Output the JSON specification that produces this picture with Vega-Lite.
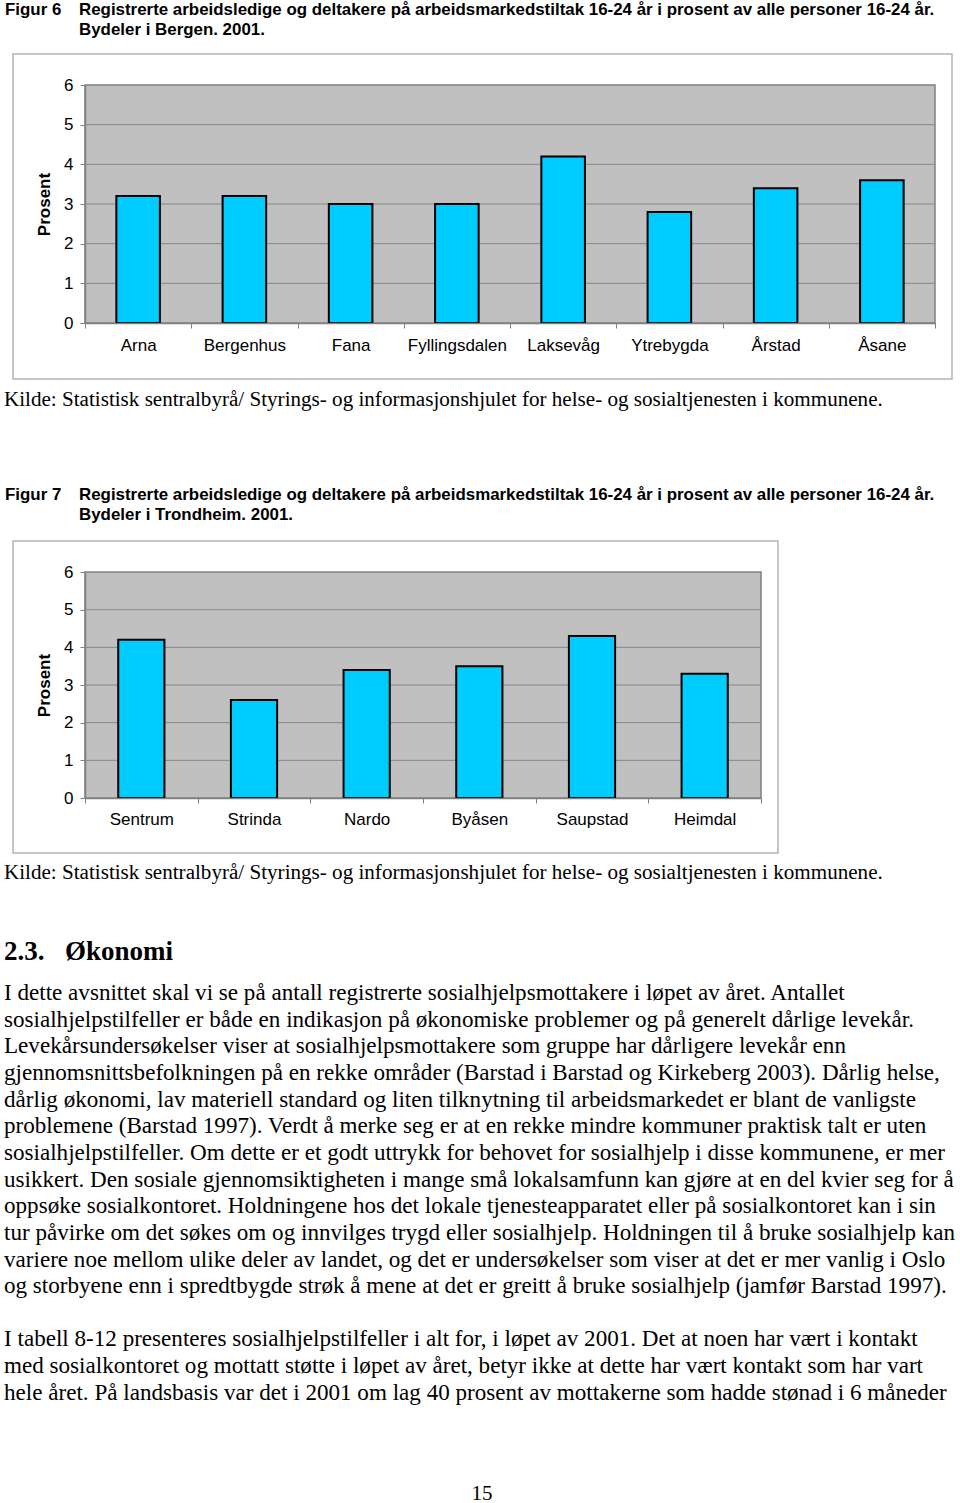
{
  "$schema": "https://vega.github.io/schema/vega-lite/v6.json",
  "background": "white",
  "padding": 0,
  "spacing": 0,
  "resolve": {"scale": {"x": "independent", "y": "independent"}},
  "config": {"view": {"stroke": null}},
  "vconcat": [
    {
      "width": 960,
      "height": 53,
      "data": {"values": [
        {"col": "num", "line": 0, "t": "Figur 6"},
        {"col": "text", "line": 0, "t": "Registrerte arbeidsledige og deltakere på arbeidsmarkedstiltak 16-24 år i prosent av alle personer 16-24 år."},
        {"col": "text", "line": 1, "t": "Bydeler i Bergen. 2001."}
      ]},
      "mark": {"type": "text", "align": "left", "baseline": "alphabetic", "font": "Liberation Sans", "fontWeight": "bold", "fontSize": 16.9, "color": "black"},
      "encoding": {
        "x": {"field": "col", "type": "nominal", "scale": {"domain": ["num", "text"], "range": [5, 79], "padding": 0}, "axis": null},
        "y": {"field": "line", "type": "quantitative", "scale": {"domain": [0, 1], "range": [15, 35]}, "axis": null},
        "text": {"field": "t"}
      }
    },
    {
      "spacing": 0,
      "resolve": {"scale": {"x": "independent", "y": "independent"}},
      "hconcat": [
        {"width": 12, "height": 325, "data": {"values": []}, "mark": "point"},
        {
          "width": 939,
          "height": 325,
          "view": {"stroke": "#b4b4b4", "strokeWidth": 1.5, "fill": "white"},
          "layer": [
            {
              "data": {"values": [{"part": "plot"}]},
              "mark": {"type": "rect", "fill": "#c0c0c0", "stroke": "#808080", "strokeWidth": 1.5},
              "encoding": {
                "x": {"datum": "Arna", "type": "nominal", "bandPosition": 0},
                "x2": {"datum": "Åsane", "bandPosition": 1},
                "y": {"datum": 0, "type": "quantitative"},
                "y2": {"datum": 6}
              }
            },
            {
              "data": {"values": [{"g": 1}, {"g": 2}, {"g": 3}, {"g": 4}, {"g": 5}]},
              "mark": {"type": "rule", "color": "#868686", "strokeWidth": 1},
              "encoding": {
                "x": {"datum": "Arna", "type": "nominal", "bandPosition": 0},
                "x2": {"datum": "Åsane", "bandPosition": 1},
                "y": {"field": "g", "type": "quantitative"}
              }
            },
            {
              "data": {"values": [
                {"bydel": "Arna", "prosent": 3.2},
                {"bydel": "Bergenhus", "prosent": 3.2},
                {"bydel": "Fana", "prosent": 3.0},
                {"bydel": "Fyllingsdalen", "prosent": 3.0},
                {"bydel": "Laksevåg", "prosent": 4.2},
                {"bydel": "Ytrebygda", "prosent": 2.8},
                {"bydel": "Årstad", "prosent": 3.4},
                {"bydel": "Åsane", "prosent": 3.6}
              ]},
              "mark": {"type": "bar", "fill": "#00ccff", "stroke": "#000000", "strokeWidth": 2, "width": {"band": 0.41}},
              "encoding": {
                "x": {
                  "field": "bydel", "type": "nominal", "sort": null, "title": null,
                  "scale": {"domain": ["Arna", "Bergenhus", "Fana", "Fyllingsdalen", "Laksevåg", "Ytrebygda", "Årstad", "Åsane"], "range": [72, 922], "paddingInner": 0, "paddingOuter": 0},
                  "axis": {"orient": "bottom", "offset": -56, "title": null, "labelAngle": 0, "labelAlign": "center", "labelBaseline": "top", "bandPosition": 0.5, "tickBand": "extent", "domainColor": "#808080", "domainWidth": 1.5, "tickColor": "#808080", "tickSize": 5, "labelFont": "Liberation Sans", "labelFontSize": 17, "labelColor": "black", "labelPadding": 9, "labelOverlap": false, "labelFlush": false, "zindex": 1}
                },
                "y": {
                  "field": "prosent", "type": "quantitative", "title": "Prosent",
                  "scale": {"domain": [0, 6], "range": [269, 31], "nice": false},
                  "axis": {"orient": "left", "offset": -72, "values": [0, 1, 2, 3, 4, 5, 6], "format": "d", "grid": false, "domainColor": "#808080", "domainWidth": 1.5, "tickColor": "#808080", "tickSize": 5, "labelFont": "Liberation Sans", "labelFontSize": 17, "labelColor": "black", "labelPadding": 7, "labelAlign": "right", "labelBaseline": "middle", "title": "Prosent", "titleFont": "Liberation Sans", "titleFontSize": 17, "titleFontWeight": "bold", "titleColor": "black", "titlePadding": 10, "zindex": 1}
                }
              }
            }
          ]
        }
      ]
    },
    {
      "width": 960,
      "height": 160,
      "layer": [
        {
          "data": {"values": [{"t": "Kilde: Statistisk sentralbyrå/ Styrings- og informasjonshjulet for helse- og sosialtjenesten i kommunene."}]},
          "mark": {"type": "text", "align": "left", "baseline": "alphabetic", "font": "Liberation Serif", "fontSize": 21.1, "color": "black"},
          "encoding": {"x": {"value": 4}, "y": {"value": 26}, "text": {"field": "t"}}
        },
        {
          "data": {"values": [
            {"col": "num", "line": 0, "t": "Figur 7"},
            {"col": "text", "line": 0, "t": "Registrerte arbeidsledige og deltakere på arbeidsmarkedstiltak 16-24 år i prosent av alle personer 16-24 år."},
            {"col": "text", "line": 1, "t": "Bydeler i Trondheim. 2001."}
          ]},
          "mark": {"type": "text", "align": "left", "baseline": "alphabetic", "font": "Liberation Sans", "fontWeight": "bold", "fontSize": 16.9, "color": "black"},
          "encoding": {
            "x": {"field": "col", "type": "nominal", "scale": {"domain": ["num", "text"], "range": [5, 79], "padding": 0}, "axis": null},
            "y": {"field": "line", "type": "quantitative", "scale": {"domain": [0, 1], "range": [119.5, 139.5]}, "axis": null},
            "text": {"field": "t"}
          }
        }
      ]
    },
    {
      "spacing": 0,
      "resolve": {"scale": {"x": "independent", "y": "independent"}},
      "hconcat": [
        {"width": 12, "height": 312, "data": {"values": []}, "mark": "point"},
        {
          "width": 765,
          "height": 312,
          "view": {"stroke": "#b4b4b4", "strokeWidth": 1.5, "fill": "white"},
          "layer": [
            {
              "data": {"values": [{"part": "plot"}]},
              "mark": {"type": "rect", "fill": "#c0c0c0", "stroke": "#808080", "strokeWidth": 1.5},
              "encoding": {
                "x": {"datum": "Sentrum", "type": "nominal", "bandPosition": 0},
                "x2": {"datum": "Heimdal", "bandPosition": 1},
                "y": {"datum": 0, "type": "quantitative"},
                "y2": {"datum": 6}
              }
            },
            {
              "data": {"values": [{"g": 1}, {"g": 2}, {"g": 3}, {"g": 4}, {"g": 5}]},
              "mark": {"type": "rule", "color": "#868686", "strokeWidth": 1},
              "encoding": {
                "x": {"datum": "Sentrum", "type": "nominal", "bandPosition": 0},
                "x2": {"datum": "Heimdal", "bandPosition": 1},
                "y": {"field": "g", "type": "quantitative"}
              }
            },
            {
              "data": {"values": [
                {"bydel": "Sentrum", "prosent": 4.2},
                {"bydel": "Strinda", "prosent": 2.6},
                {"bydel": "Nardo", "prosent": 3.4},
                {"bydel": "Byåsen", "prosent": 3.5},
                {"bydel": "Saupstad", "prosent": 4.3},
                {"bydel": "Heimdal", "prosent": 3.3}
              ]},
              "mark": {"type": "bar", "fill": "#00ccff", "stroke": "#000000", "strokeWidth": 2, "width": {"band": 0.41}},
              "encoding": {
                "x": {
                  "field": "bydel", "type": "nominal", "sort": null, "title": null,
                  "scale": {"domain": ["Sentrum", "Strinda", "Nardo", "Byåsen", "Saupstad", "Heimdal"], "range": [72, 748], "paddingInner": 0, "paddingOuter": 0},
                  "axis": {"orient": "bottom", "offset": -55, "title": null, "labelAngle": 0, "labelAlign": "center", "labelBaseline": "top", "bandPosition": 0.5, "tickBand": "extent", "domainColor": "#808080", "domainWidth": 1.5, "tickColor": "#808080", "tickSize": 5, "labelFont": "Liberation Sans", "labelFontSize": 17, "labelColor": "black", "labelPadding": 8, "labelOverlap": false, "labelFlush": false, "zindex": 1}
                },
                "y": {
                  "field": "prosent", "type": "quantitative", "title": "Prosent",
                  "scale": {"domain": [0, 6], "range": [257, 31], "nice": false},
                  "axis": {"orient": "left", "offset": -72, "values": [0, 1, 2, 3, 4, 5, 6], "format": "d", "grid": false, "domainColor": "#808080", "domainWidth": 1.5, "tickColor": "#808080", "tickSize": 5, "labelFont": "Liberation Sans", "labelFontSize": 17, "labelColor": "black", "labelPadding": 7, "labelAlign": "right", "labelBaseline": "middle", "title": "Prosent", "titleFont": "Liberation Sans", "titleFontSize": 17, "titleFontWeight": "bold", "titleColor": "black", "titlePadding": 10, "zindex": 1}
                }
              }
            }
          ]
        }
      ]
    },
    {
      "width": 960,
      "height": 653,
      "layer": [
        {
          "data": {"values": [{"t": "Kilde: Statistisk sentralbyrå/ Styrings- og informasjonshjulet for helse- og sosialtjenesten i kommunene."}]},
          "mark": {"type": "text", "align": "left", "baseline": "alphabetic", "font": "Liberation Serif", "fontSize": 21.1, "color": "black"},
          "encoding": {"x": {"value": 4}, "y": {"value": 25}, "text": {"field": "t"}}
        },
        {
          "data": {"values": [{"col": "num", "t": "2.3."}, {"col": "text", "t": "Økonomi"}]},
          "mark": {"type": "text", "align": "left", "baseline": "alphabetic", "font": "Liberation Serif", "fontWeight": "bold", "fontSize": 27, "color": "black"},
          "encoding": {
            "x": {"field": "col", "type": "nominal", "scale": {"domain": ["num", "text"], "range": [4, 65], "padding": 0}, "axis": null},
            "y": {"value": 106},
            "text": {"field": "t"}
          }
        },
        {
          "data": {"values": [
            {"line": 0, "t": "I dette avsnittet skal vi se på antall registrerte sosialhjelpsmottakere i løpet av året. Antallet"},
            {"line": 1, "t": "sosialhjelpstilfeller er både en indikasjon på økonomiske problemer og på generelt dårlige levekår."},
            {"line": 2, "t": "Levekårsundersøkelser viser at sosialhjelpsmottakere som gruppe har dårligere levekår enn"},
            {"line": 3, "t": "gjennomsnittsbefolkningen på en rekke områder (Barstad i Barstad og Kirkeberg 2003). Dårlig helse,"},
            {"line": 4, "t": "dårlig økonomi, lav materiell standard og liten tilknytning til arbeidsmarkedet er blant de vanligste"},
            {"line": 5, "t": "problemene (Barstad 1997). Verdt å merke seg er at en rekke mindre kommuner praktisk talt er uten"},
            {"line": 6, "t": "sosialhjelpstilfeller. Om dette er et godt uttrykk for behovet for sosialhjelp i disse kommunene, er mer"},
            {"line": 7, "t": "usikkert. Den sosiale gjennomsiktigheten i mange små lokalsamfunn kan gjøre at en del kvier seg for å"},
            {"line": 8, "t": "oppsøke sosialkontoret. Holdningene hos det lokale tjenesteapparatet eller på sosialkontoret kan i sin"},
            {"line": 9, "t": "tur påvirke om det søkes om og innvilges trygd eller sosialhjelp. Holdningen til å bruke sosialhjelp kan"},
            {"line": 10, "t": "variere noe mellom ulike deler av landet, og det er undersøkelser som viser at det er mer vanlig i Oslo"},
            {"line": 11, "t": "og storbyene enn i spredtbygde strøk å mene at det er greitt å bruke sosialhjelp (jamfør Barstad 1997)."},
            {"line": 13, "t": "I tabell 8-12 presenteres sosialhjelpstilfeller i alt for, i løpet av 2001. Det at noen har vært i kontakt"},
            {"line": 14, "t": "med sosialkontoret og mottatt støtte i løpet av året, betyr ikke at dette har vært kontakt som har vart"},
            {"line": 15, "t": "hele året. På landsbasis var det i 2001 om lag 40 prosent av mottakerne som hadde stønad i 6 måneder"}
          ]},
          "mark": {"type": "text", "align": "left", "baseline": "alphabetic", "font": "Liberation Serif", "fontSize": 23.1, "color": "black"},
          "encoding": {
            "x": {"value": 4},
            "y": {"field": "line", "type": "quantitative", "scale": {"domain": [0, 15], "range": [146, 545.75]}, "axis": null},
            "text": {"field": "t"}
          }
        },
        {
          "data": {"values": [{"t": "15"}]},
          "mark": {"type": "text", "align": "center", "baseline": "alphabetic", "font": "Liberation Serif", "fontSize": 21, "color": "black"},
          "encoding": {"x": {"value": 482}, "y": {"value": 646}, "text": {"field": "t"}}
        }
      ]
    }
  ]
}
